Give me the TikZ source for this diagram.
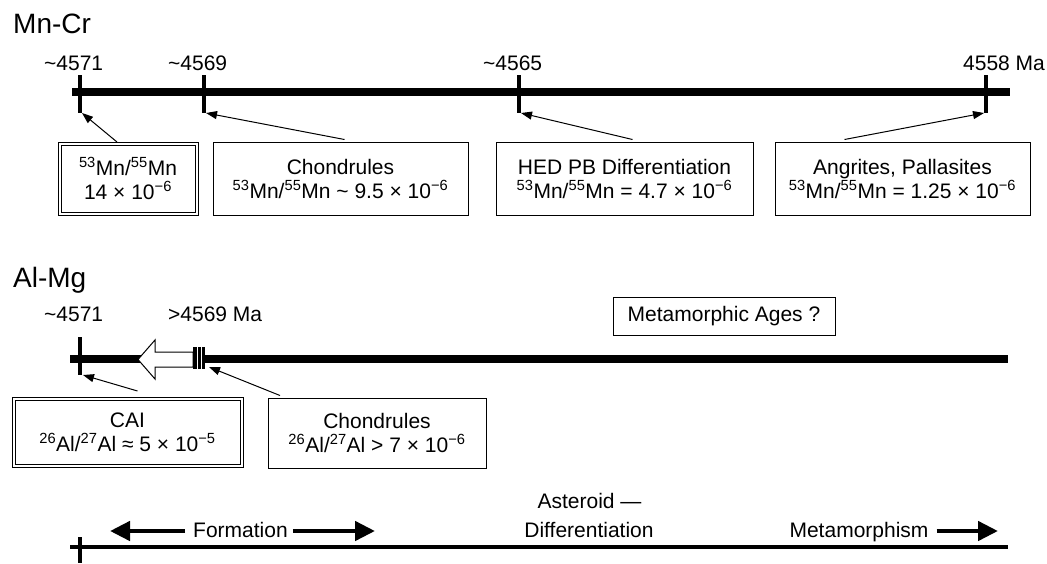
\documentclass[tikz,border=0pt]{standalone}
\usepackage{fontspec}
\setmainfont{Liberation Sans}
\usetikzlibrary{arrows.meta,calc}
\newcommand\lblfont{\fontsize{21pt}{24pt}\selectfont}
\newcommand\ttlfont{\fontsize{28pt}{32pt}\selectfont}
\newcommand\sps[1]{\textsuperscript{#1}}
\begin{document}
\begin{tikzpicture}[x=1pt,y=-1pt,
  axisline/.style={line width=8pt},
  thinaxis/.style={line width=4pt},
  tickmark/.style={line width=4pt},
  box/.style={draw, line width=1pt, rectangle, inner sep=0pt, align=center, font=\lblfont},
  dbox/.style={box, double, double distance=2pt},
  lbl/.style={anchor=base west, inner sep=0pt, font=\lblfont},
  ttl/.style={anchor=base west, inner sep=0pt, font=\ttlfont},
  ptr/.style={line width=1pt, -{Triangle[length=11pt,width=8pt]}},
  bigarrow/.style={line width=4.5pt, -{Triangle[length=20pt,width=19pt]}},
  plain/.style={anchor=base, inner sep=0pt, font=\lblfont}]
\useasboundingbox (0,0) rectangle (1047,563);

% ---------------- Mn-Cr ----------------
\node[ttl] (mncr) at (13,33) {Mn-Cr};
\draw[axisline] (72,92) -- (1010,92);
\coordinate (a1) at (80,113);
\coordinate (a2) at (204,113);
\coordinate (a3) at (519,113);
\coordinate (a4) at (986,113);
\draw[tickmark] (80,75) -- (a1);
\draw[tickmark] (204,75) -- (a2);
\draw[tickmark] (519,75) -- (a3);
\draw[tickmark] (986,75) -- (a4);
\node[lbl] (l1) at (44,70) {\textasciitilde4571};
\node[lbl] (l2) at (168,70) {\textasciitilde4569};
\node[lbl] (l3) at (483,70) {\textasciitilde4565};
\node[lbl] (l4) at (963,70) {4558 Ma};

\node[dbox, minimum width=137pt, minimum height=70pt] (mn1) at (128,178.5)
  {\sps{53}Mn/\sps{55}Mn\\14 × 10\sps{−6}};
\node[box, minimum width=255pt, minimum height=73pt] (ch1) at (340.5,178.5)
  {Chondrules\\\sps{53}Mn/\sps{55}Mn \textasciitilde{} 9.5 × 10\sps{−6}};
\node[box, minimum width=257pt, minimum height=73pt] (hed) at (624.5,178.5)
  {HED PB Differentiation\\\sps{53}Mn/\sps{55}Mn = 4.7 × 10\sps{−6}};
\node[box, minimum width=255pt, minimum height=73pt] (ang) at (902.5,178.5)
  {Angrites, Pallasites\\\sps{53}Mn/\sps{55}Mn = 1.25 × 10\sps{−6}};

\draw[ptr] ($(mn1.north)+(-11,-1)$) -- ($(a1)+(2,0)$);
\draw[ptr] ($(ch1.north)+(4,-2)$) -- ($(a2)+(2,0)$);
\draw[ptr] ($(hed.north)+(8,-2)$) -- ($(a3)+(2,0)$);
\draw[ptr] ($(ang.north)+(-58,-2)$) -- ($(a4)+(-2,0)$);

% ---------------- Al-Mg ----------------
\node[ttl] (almg) at (13,287) {Al-Mg};
\draw[axisline] (70,358.5) -- (1008,358.5);
\coordinate (b1) at (80,375);
\draw[tickmark] (80,337) -- (b1);
\node[lbl] (m1) at (44,321) {\textasciitilde4571};
\node[lbl] (m2) at (168,321) {>4569 Ma};

% hollow arrow
\draw[line width=1pt, fill=white] (138,359.5) -- (155,340) -- (155,352) -- (193,352)
  -- (193,367) -- (155,367) -- (155,379) -- cycle;
\fill[black] (193,347) rectangle (205,369);
\draw[white, line width=1.2pt] (197.5,347) -- (197.5,369);
\draw[white, line width=1.2pt] (201.5,347) -- (201.5,369);
\coordinate (b2) at (209,367);

\node[box, minimum width=222pt, minimum height=38pt] (meta) at (724,316) {Metamorphic Ages ?};

\node[dbox, minimum width=228pt, minimum height=67pt] (cai) at (127.5,432)
  {CAI\\\sps{26}Al/\sps{27}Al ≈ 5 × 10\sps{−5}};
\node[box, minimum width=218pt, minimum height=70pt] (ch2) at (377,433)
  {Chondrules\\\sps{26}Al/\sps{27}Al > 7 × 10\sps{−6}};

\draw[ptr] ($(cai.north)+(10,-7)$) -- ($(b1)+(3,0)$);
\draw[ptr] ($(ch2.north)+(-97,-2)$) -- (b2);

% ---------------- bottom ----------------
\draw[thinaxis] (70,547) -- (1008,547);
\draw[tickmark] (80,537) -- (80,563);
\node[plain] (form) at (240.5,537) {Formation};
\node[plain] (ast) at (589.5,508) {Asteroid —};
\node[plain] (diff) at (589,537) {Differentiation};
\node[plain] (meth) at (859,537) {Metamorphism};
\coordinate (fl) at (110,531);
\coordinate (fr) at (375,531);
\coordinate (mr) at (998,531);
\draw[bigarrow] ($(form.base west)+(-8,-6)$) -- (fl);
\draw[bigarrow] ($(form.base east)+(5,-6)$) -- (fr);
\draw[bigarrow] ($(meth.base east)+(8,-6)$) -- (mr);
\end{tikzpicture}
\end{document}
